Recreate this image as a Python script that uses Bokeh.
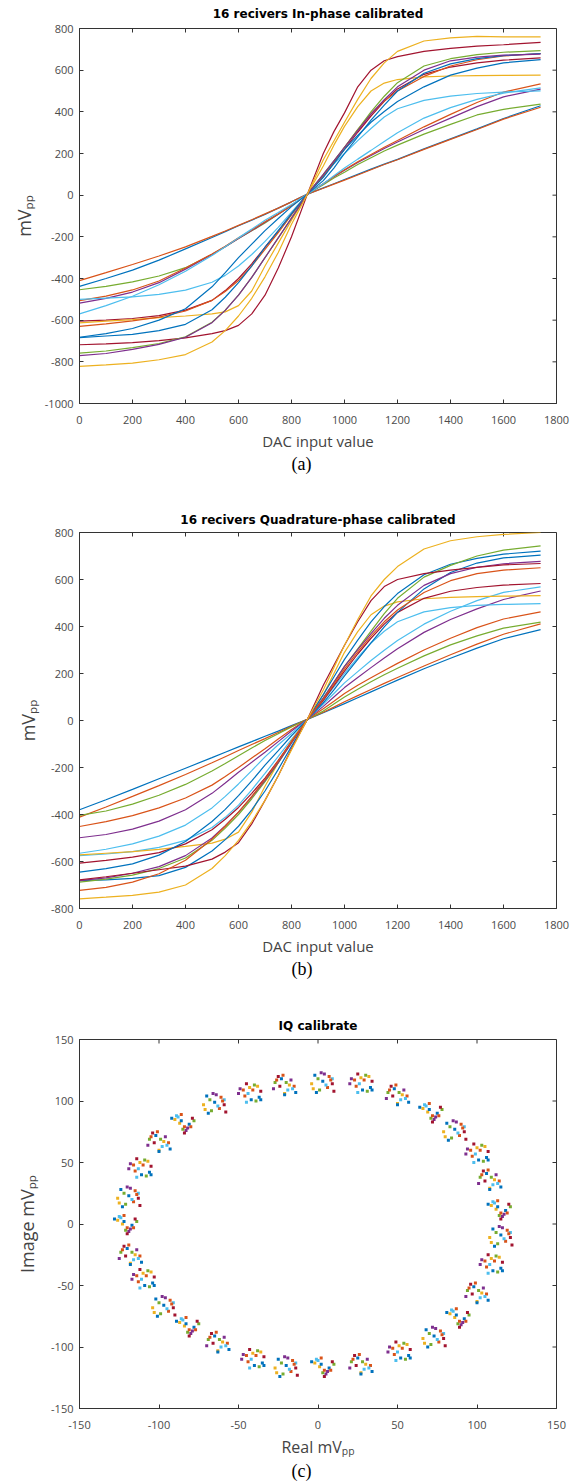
from bokeh.plotting import figure
from bokeh.models import Range1d, FixedTicker, Title, ColumnDataSource
from bokeh.layouts import column
from bokeh.embed import file_html
from bokeh.resources import INLINE

# ---------------- data ----------------
DAC_X = [0, 100, 200, 300, 400, 500, 550, 600, 650, 700, 750, 800, 860,
         920, 960, 1000, 1050, 1100, 1150, 1200, 1300, 1400, 1500, 1600, 1740]

BLUE, ORANGE, YELLOW, PURPLE = "#0072BD", "#D95319", "#EDB120", "#7E2F8E"
GREEN, LBLUE, RED = "#77AC30", "#4DBEEE", "#A2142F"

# (a) In-phase, 16 receivers (mVpp at each DAC_X)
IN_01 = [-438, -400, -360, -312, -258, -203, -175, -147, -120, -92, -62, -32, 5,
         35, 55, 75, 100, 125, 149, 172, 222, 270, 318, 368, 429]
IN_02 = [-410, -372, -333, -292, -248, -198, -172, -145, -118, -90, -62, -32, 5,
         33, 53, 72, 97, 122, 147, 170, 220, 268, 315, 365, 422]
IN_03 = [-454, -438, -416, -388, -348, -285, -248, -208, -171, -133, -92, -50, 5,
         50, 82, 110, 147, 180, 212, 240, 293, 340, 385, 412, 437]
IN_04 = [-518, -495, -465, -420, -355, -285, -248, -208, -170, -130, -91, -50, 5,
         55, 89, 120, 157, 190, 224, 255, 315, 370, 425, 472, 509]
IN_05 = [-506, -485, -455, -412, -350, -282, -245, -205, -167, -128, -90, -50, 5,
         55, 90, 122, 160, 195, 230, 262, 328, 388, 445, 495, 534]
IN_06 = [-500, -494, -488, -476, -456, -418, -385, -340, -285, -222, -155, -82, 5,
         95, 150, 200, 262, 320, 375, 415, 455, 475, 488, 495, 501]
IN_07 = [-570, -530, -485, -430, -365, -290, -248, -205, -163, -120, -83, -45, 5,
         55, 93, 130, 173, 215, 258, 300, 370, 420, 460, 490, 515]
IN_08 = [-605, -600, -592, -578, -552, -505, -458, -400, -330, -250, -172, -90, 5,
         90, 155, 220, 302, 380, 450, 510, 580, 615, 635, 648, 659]
IN_09 = [-613, -605, -597, -588, -580, -570, -560, -530, -460, -340, -230, -120, 5,
         140, 240, 330, 425, 500, 538, 555, 568, 572, 574, 575, 576]
IN_10 = [-630, -618, -603, -585, -556, -505, -462, -410, -340, -260, -180, -95, 5,
         90, 160, 230, 315, 390, 452, 500, 570, 620, 650, 668, 680]
IN_11 = [-682, -665, -640, -600, -545, -440, -372, -300, -235, -170, -112, -55, 5,
         70, 130, 200, 280, 360, 432, 500, 585, 630, 655, 670, 680]
IN_12 = [-684, -676, -668, -650, -620, -550, -490, -420, -340, -250, -170, -90, 5,
         85, 152, 220, 287, 350, 402, 450, 520, 576, 610, 635, 651]
IN_13 = [-718, -714, -708, -698, -685, -665, -650, -625, -570, -480, -350, -200, 5,
         200, 305, 395, 520, 600, 645, 665, 690, 705, 715, 722, 733]
IN_14 = [-758, -748, -732, -712, -680, -610, -552, -480, -395, -300, -205, -110, 5,
         100, 165, 230, 315, 400, 475, 540, 620, 655, 675, 686, 694]
IN_15 = [-770, -760, -740, -716, -682, -612, -553, -480, -395, -300, -205, -110, 5,
         100, 165, 230, 310, 390, 458, 520, 600, 645, 663, 672, 677]
IN_16 = [-822, -815, -806, -790, -765, -705, -650, -580, -495, -392, -275, -140, 5,
         170, 260, 350, 460, 560, 635, 690, 740, 755, 762, 760, 760]
IN_CURVES = [IN_01, IN_02, IN_03, IN_04, IN_05, IN_06, IN_07, IN_08,
             IN_09, IN_10, IN_11, IN_12, IN_13, IN_14, IN_15, IN_16]
IN_COLORS = [BLUE, ORANGE, GREEN, PURPLE, ORANGE, LBLUE, LBLUE, RED,
             YELLOW, ORANGE, BLUE, BLUE, RED, GREEN, PURPLE, YELLOW]

# (b) Quadrature-phase, 16 receivers (mVpp at each DAC_X)
QD_01 = [-380, -337, -293, -248, -203, -158, -135, -112, -90, -67, -45, -22, 5,
         33, 52, 72, 97, 122, 147, 172, 220, 265, 308, 348, 387]
QD_02 = [-411, -368, -323, -277, -230, -180, -154, -128, -102, -77, -51, -25, 5,
         35, 57, 80, 106, 132, 158, 183, 232, 280, 325, 367, 411]
QD_03 = [-404, -385, -356, -318, -272, -215, -183, -150, -117, -85, -56, -28, 5,
         40, 70, 100, 133, 165, 195, 222, 275, 322, 360, 393, 419]
QD_04 = [-451, -430, -405, -372, -330, -275, -238, -200, -160, -120, -79, -38, 5,
         50, 82, 115, 150, 182, 213, 243, 300, 350, 395, 432, 462]
QD_05 = [-499, -485, -462, -428, -380, -310, -266, -220, -178, -135, -90, -45, 5,
         60, 100, 140, 183, 225, 266, 305, 375, 430, 475, 515, 551]
QD_06 = [-565, -548, -525, -492, -445, -372, -323, -270, -213, -155, -103, -55, 5,
         70, 115, 160, 208, 255, 299, 340, 410, 465, 510, 545, 569]
QD_07 = [-575, -568, -558, -540, -510, -455, -412, -360, -295, -225, -153, -80, 5,
         85, 143, 200, 268, 330, 380, 420, 462, 480, 490, 494, 497]
QD_08 = [-572, -565, -558, -548, -536, -522, -505, -475, -390, -280, -180, -85, 5,
         110, 200, 290, 378, 450, 487, 505, 518, 524, 527, 529, 531]
QD_09 = [-607, -595, -581, -562, -525, -465, -420, -370, -310, -245, -170, -90, 5,
         85, 148, 210, 283, 350, 410, 460, 520, 550, 566, 576, 583]
QD_10 = [-645, -630, -610, -573, -515, -430, -378, -320, -257, -190, -128, -65, 5,
         75, 130, 190, 260, 330, 398, 460, 560, 630, 670, 692, 704]
QD_11 = [-681, -678, -672, -660, -625, -555, -507, -450, -380, -300, -208, -110, 5,
         110, 185, 260, 342, 420, 485, 540, 620, 665, 690, 708, 721]
QD_12 = [-688, -675, -658, -630, -585, -510, -458, -400, -333, -260, -180, -95, 5,
         95, 162, 230, 305, 380, 455, 520, 610, 660, 700, 725, 743]
QD_13 = [-681, -670, -650, -622, -575, -500, -448, -390, -325, -255, -178, -95, 5,
         95, 162, 230, 302, 370, 435, 490, 575, 625, 652, 667, 677]
QD_14 = [-678, -665, -650, -635, -620, -590, -560, -520, -440, -340, -235, -120, 5,
         150, 235, 320, 420, 510, 570, 600, 625, 640, 652, 662, 668]
QD_15 = [-723, -710, -688, -652, -595, -505, -450, -390, -323, -250, -172, -90, 5,
         90, 155, 220, 292, 360, 420, 470, 545, 595, 625, 640, 650]
QD_16 = [-759, -752, -744, -730, -700, -630, -575, -510, -430, -340, -235, -125, 5,
         130, 225, 320, 430, 530, 600, 655, 730, 765, 782, 792, 800]
QD_CURVES = [QD_01, QD_02, QD_03, QD_04, QD_05, QD_06, QD_07, QD_08,
             QD_09, QD_10, QD_11, QD_12, QD_13, QD_14, QD_15, QD_16]
QD_COLORS = [BLUE, ORANGE, GREEN, ORANGE, PURPLE, LBLUE, LBLUE, YELLOW,
             RED, BLUE, BLUE, GREEN, PURPLE, RED, ORANGE, YELLOW]

# (c) IQ constellation: cluster centres
CLUSTER_X = [3, 27, 50, 71, 86, 100, 108, 114, 115, 109, 100, 88, 73, 51, 27, 3,
             -20, -41, -63, -82, -97, -110, -118, -121, -119, -112, -100, -85, -65, -43, -21]
CLUSTER_Y = [115, 114, 105, 91, 76, 57, 36, 12, -10, -33, -56, -76, -92, -104, -114, -116,
             -116, -110, -96, -83, -67, -45, -25, 0, 22, 45, 67, 82, 98, 106, 113]
# per-receiver scatter around each centre (4 observed spread patterns)
SPREAD_DX = [
    [-5, 3, -7, 1, -2, 6, 7, 0, 4, -6, -1, -3, 2, 6, -4, 5],
    [1, -4, 5, -7, 3, -2, 7, 6, -3, 0, -6, 4, -1, -2, 7, 2],
    [-2, 6, 0, 4, -6, 2, -4, 7, -1, 3, -7, 1, 5, -3, 0, -5],
    [4, -1, -5, 2, 7, -3, 1, -7, 5, -2, 3, 0, -4, 6, -1, 1],
]
SPREAD_DY = [
    [6, -4, -1, 7, -6, 3, -7, 1, 5, -5, 8, 3, -2, -1, -8, 2],
    [-5, 3, 6, 0, 7, -7, 2, -3, -2, 5, 4, -6, 0, 8, -5, 3],
    [5, -1, -7, 4, 2, -4, 7, -6, 8, 0, -3, 2, -3, -1, -8, 4],
    [-1, 7, 3, -6, 2, 5, -8, 4, -3, 0, -4, -5, 6, 4, 2, -3],
]
RECEIVER_COLORS = [BLUE, ORANGE, YELLOW, PURPLE, GREEN, LBLUE, RED, BLUE,
                   ORANGE, YELLOW, PURPLE, GREEN, LBLUE, RED, BLUE, ORANGE]

DAC_TICKS = [0, 200, 400, 600, 800, 1000, 1200, 1400, 1600, 1800]
IN_Y_TICKS = [-1000, -800, -600, -400, -200, 0, 200, 400, 600, 800]
QD_Y_TICKS = [-800, -600, -400, -200, 0, 200, 400, 600, 800]
IQ_TICKS = [-150, -100, -50, 0, 50, 100, 150]

TITLES = ["16 recivers In-phase calibrated", "16 recivers Quadrature-phase calibrated", "IQ calibrate"]
X_LABELS = ["DAC input value", "DAC input value", "Real mV\u209a\u209a"]
Y_LABELS = ["mV\u209a\u209a", "mV\u209a\u209a", "Image mV\u209a\u209a"]
CAPTIONS = ["(a)", "(b)", "(c)"]

# ---------------- styling ----------------
AX = "#333333"
TICKTXT = "#4a4a4a"
LABTXT = "#444444"
FONT = "Open Sans"
FRAME_W = 477


def make_fig(top, frame_h, bottom, xr, yr, xticks, yticks, title, xlabel, ylabel, caption,
             xl_size, xl_standoff, yl_standoff, cap_standoff):
    p = figure(width=574, height=top + frame_h + bottom, x_range=Range1d(*xr), y_range=Range1d(*yr),
               output_backend="svg", toolbar_location=None,
               min_border_left=79, min_border_right=18, min_border_top=top, min_border_bottom=bottom)
    p.title = Title(text=title, align="center", vertical_align="top", standoff=top - 15.7,
                    text_font="DejaVu Sans", text_font_size="12px", text_font_style="bold",
                    text_color="black")
    p.grid.visible = False
    p.background_fill_color = "white"
    p.border_fill_color = "white"
    p.outline_line_color = AX
    for ax, ticks in ((p.xaxis[0], xticks), (p.yaxis[0], yticks)):
        ax.ticker = FixedTicker(ticks=ticks)
        ax.major_label_overrides = {t: str(t) for t in ticks}
        ax.major_tick_in = 4
        ax.major_tick_out = 0
        ax.minor_tick_in = 0
        ax.minor_tick_out = 0
        ax.axis_line_color = AX
        ax.major_tick_line_color = AX
        ax.major_label_text_font = FONT
        ax.major_label_text_font_size = "11px"
        ax.major_label_text_color = TICKTXT
        ax.axis_label_text_font = FONT
        ax.axis_label_text_font_style = "normal"
        ax.axis_label_text_color = LABTXT
    p.xaxis[0].axis_label_text_font_size = xl_size
    p.yaxis[0].axis_label_text_font_size = "18px"
    p.xaxis[0].major_label_standoff = 12
    p.yaxis[0].major_label_standoff = 6
    p.xaxis[0].axis_label = xlabel
    p.yaxis[0].axis_label = ylabel
    p.xaxis[0].axis_label_standoff = xl_standoff
    p.yaxis[0].axis_label_standoff = yl_standoff
    p.add_layout(Title(text=caption, align="left", offset=212, vertical_align="top",
                       standoff=cap_standoff, text_font="Liberation Serif", text_font_size="18px",
                       text_font_style="normal", text_color="black"), "below")
    # mirrored inward ticks on the top and right edges of the box
    dy = 4.0 * (yr[1] - yr[0]) / frame_h
    dx = 4.0 * (xr[1] - xr[0]) / FRAME_W
    p.segment(x0=xticks, x1=xticks, y0=[yr[1]] * len(xticks), y1=[yr[1] - dy] * len(xticks),
              line_color=AX, line_width=1)
    p.segment(x0=[xr[1]] * len(yticks), x1=[xr[1] - dx] * len(yticks), y0=yticks, y1=yticks,
              line_color=AX, line_width=1)
    return p


# (a)  window rows 0..508, frame 28..403
pa = make_fig(28, 375, 105, (0, 1800), (-1000, 800), DAC_TICKS, IN_Y_TICKS,
              TITLES[0], X_LABELS[0], Y_LABELS[0], CAPTIONS[0], "15px", 4, 6, 0)
for ys, c in zip(IN_CURVES, IN_COLORS):
    pa.line(DAC_X, ys, line_color=c, line_width=1.2)

# (b)  window rows 508..1013, frame 532..908
pb = make_fig(24, 376, 105, (0, 1800), (-800, 800), DAC_TICKS, QD_Y_TICKS,
              TITLES[1], X_LABELS[1], Y_LABELS[1], CAPTIONS[1], "15px", 4, 8, 0)
for ys, c in zip(QD_CURVES, QD_COLORS):
    pb.line(DAC_X, ys, line_color=c, line_width=1.2)

# (c)  window rows 1013..1483, frame 1039..1409
pc = make_fig(26, 370, 74, (-150, 150), (-150, 150), IQ_TICKS, IQ_TICKS,
              TITLES[2], X_LABELS[2], Y_LABELS[2], CAPTIONS[2], "16px", 4, 9, 1)
sx, sy, sc = [], [], []
for k, (cx, cy) in enumerate(zip(CLUSTER_X, CLUSTER_Y)):
    dxs, dys = SPREAD_DX[k % 4], SPREAD_DY[k % 4]
    for i in range(16):
        sx.append(cx + dxs[i])
        sy.append(cy + dys[i])
        sc.append(RECEIVER_COLORS[i])
src = ColumnDataSource(dict(x=sx, y=sy, c=sc))
pc.scatter("x", "y", source=src, marker="square", size=3, fill_color="c", line_color=None)

layout = column(pa, pb, pc, spacing=0)
open("out.html", "w").write(file_html(layout, INLINE))
